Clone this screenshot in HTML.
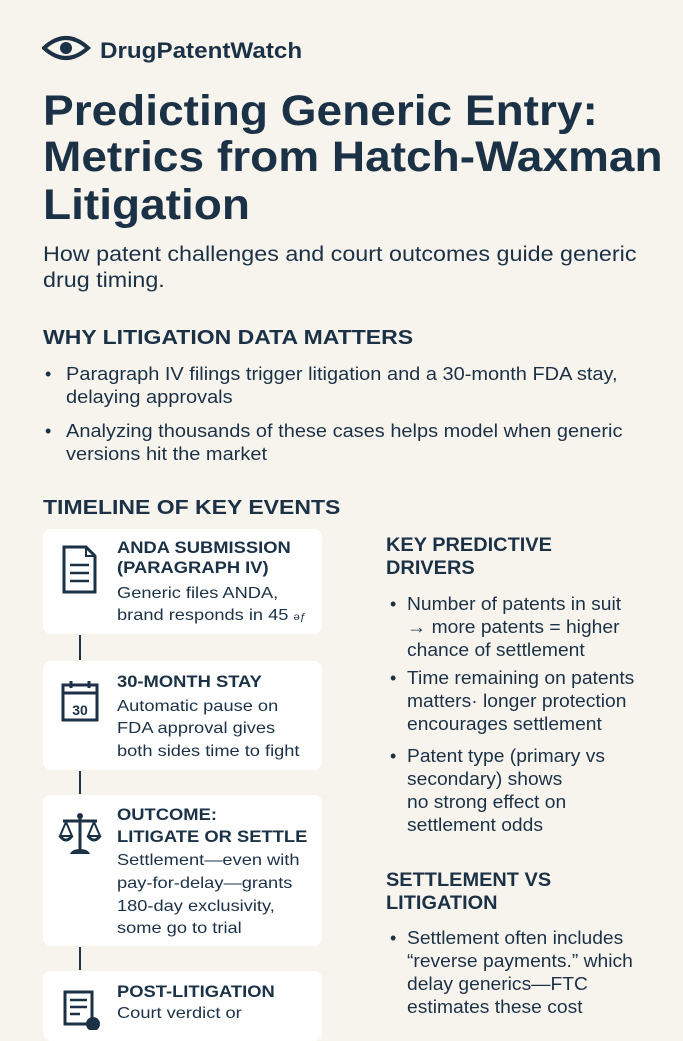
<!DOCTYPE html>
<html><head><meta charset="utf-8"><style>
body{margin:0;width:683px;height:1024px;overflow:hidden;background:#f7f4ee;position:relative;font-family:"Liberation Sans",sans-serif;color:#1b3146}
.t{position:absolute;white-space:nowrap;line-height:1;transform-origin:0 0}
.b{font-weight:bold}
.card{position:absolute;left:43px;width:279px;background:#fff;border-radius:8px}
.vl{position:absolute;left:79px;width:2px;background:#1b3146}
.ti{transform:scaleX(1.07)}
.sb{transform:scaleX(1.11)}
.h{transform:scaleX(1.15)}
.ch{transform:scaleX(1.08)}
.cb{transform:scaleX(1.14)}
.rb{transform:scaleX(1.07)}
.rh{transform:scaleX(1.05)}
</style></head><body>
<svg style="position:absolute;left:42px;top:34px" width="50" height="28" viewBox="0 0 50 28"><path d="M2 14 Q24 -6 46 14 Q24 34 2 14 Z" fill="none" stroke="#1b3146" stroke-width="4"/><circle cx="24" cy="14" r="6" fill="#1b3146"/></svg>
<div class="t b" style="left:100px;top:40px;font-size:22px;transform:scaleX(1.1)">DrugPatentWatch</div>

<div class="t b ti" style="left:43px;top:90px;font-size:43px">Predicting Generic Entry:</div>
<div class="t b ti" style="left:43px;top:136px;font-size:43px">Metrics from Hatch-Waxman</div>
<div class="t b ti" style="left:43px;top:184px;font-size:43px">Litigation</div>

<div class="t sb" style="left:43px;top:244px;font-size:21px">How patent challenges and court outcomes guide generic</div>
<div class="t sb" style="left:43px;top:270px;font-size:21px">drug timing.</div>

<div class="t b h" style="left:43px;top:328px;font-size:20px">WHY LITIGATION DATA MATTERS</div>
<div class="t" style="left:45px;top:365px;font-size:18px">•</div>
<div class="t sb" style="left:66px;top:365px;font-size:18px">Paragraph IV filings trigger litigation and a 30-month FDA stay,</div>
<div class="t sb" style="left:66px;top:388px;font-size:18px">delaying approvals</div>
<div class="t" style="left:45px;top:422px;font-size:18px">•</div>
<div class="t sb" style="left:66px;top:422px;font-size:18px">Analyzing thousands of these cases helps model when generic</div>
<div class="t sb" style="left:66px;top:445px;font-size:18px">versions hit the market</div>

<div class="t b h" style="left:43px;top:498px;font-size:20px">TIMELINE OF KEY EVENTS</div>

<div class="card" style="top:529px;height:105px"></div>
<div class="card" style="top:661px;height:109px"></div>
<div class="card" style="top:795px;height:151px"></div>
<div class="card" style="top:971px;height:70px"></div>
<div class="vl" style="top:635px;height:25px"></div>
<div class="vl" style="top:771px;height:23px"></div>
<div class="vl" style="top:947px;height:23px"></div>

<svg style="position:absolute;left:60px;top:544px" width="40" height="52"><path d="M4 3 H26 L35 12 V48 H4 Z" fill="none" stroke="#1b3146" stroke-width="3"/><path d="M26 3 V12 H35" fill="none" stroke="#1b3146" stroke-width="2"/><line x1="10" y1="21" x2="29" y2="21" stroke="#1b3146" stroke-width="2.5"/><line x1="10" y1="29" x2="29" y2="29" stroke="#1b3146" stroke-width="2.5"/><line x1="10" y1="37" x2="29" y2="37" stroke="#1b3146" stroke-width="2.5"/></svg>
<svg style="position:absolute;left:60px;top:679px" width="40" height="44"><rect x="3" y="6" width="34" height="35" fill="none" stroke="#1b3146" stroke-width="3"/><line x1="3" y1="14" x2="37" y2="14" stroke="#1b3146" stroke-width="3"/><line x1="11" y1="2" x2="11" y2="9" stroke="#1b3146" stroke-width="3"/><line x1="29" y1="2" x2="29" y2="9" stroke="#1b3146" stroke-width="3"/><text x="20" y="36" text-anchor="middle" font-family="Liberation Sans" font-weight="bold" font-size="14" fill="#1b3146">30</text></svg>
<svg style="position:absolute;left:57px;top:811px" width="46" height="46"><line x1="23" y1="6" x2="23" y2="40" stroke="#1b3146" stroke-width="3"/><circle cx="23" cy="5" r="3" fill="#1b3146"/><line x1="6" y1="10" x2="40" y2="10" stroke="#1b3146" stroke-width="3"/><path d="M9 11 L3 25 H15 Z M37 11 L31 25 H43 Z" fill="none" stroke="#1b3146" stroke-width="2"/><path d="M3 25 Q9 33 15 25 M31 25 Q37 33 43 25" fill="none" stroke="#1b3146" stroke-width="3"/><path d="M13 43 Q15 38 23 38 Q31 38 33 43 Z" fill="#1b3146"/></svg>
<svg style="position:absolute;left:62px;top:990px" width="40" height="40"><path d="M3 2 H30 V34 H3 Z" fill="none" stroke="#1b3146" stroke-width="3"/><line x1="8" y1="10" x2="25" y2="10" stroke="#1b3146" stroke-width="2.5"/><line x1="8" y1="17" x2="25" y2="17" stroke="#1b3146" stroke-width="2.5"/><line x1="8" y1="24" x2="18" y2="24" stroke="#1b3146" stroke-width="2.5"/><circle cx="31" cy="34" r="7" fill="#1b3146"/></svg>

<div class="t b ch" style="left:117px;top:539px;font-size:17px">ANDA SUBMISSION</div>
<div class="t b ch" style="left:117px;top:559px;font-size:17px">(PARAGRAPH IV)</div>
<div class="t cb" style="left:117px;top:586px;font-size:16px">Generic files ANDA,</div>
<div class="t cb" style="left:117px;top:608px;font-size:16px">brand responds in 45 <span style="font-size:10px">ǝƒ</span></div>

<div class="t b ch" style="left:117px;top:673px;font-size:17px">30-MONTH STAY</div>
<div class="t cb" style="left:117px;top:699px;font-size:16px">Automatic pause on</div>
<div class="t cb" style="left:117px;top:721px;font-size:16px">FDA approval gives</div>
<div class="t cb" style="left:117px;top:744px;font-size:16px">both sides time to fight</div>

<div class="t b ch" style="left:117px;top:806px;font-size:17px">OUTCOME:</div>
<div class="t b ch" style="left:117px;top:828px;font-size:17px">LITIGATE OR SETTLE</div>
<div class="t cb" style="left:117px;top:853px;font-size:16px">Settlement—even with</div>
<div class="t cb" style="left:117px;top:876px;font-size:16px">pay-for-delay—grants</div>
<div class="t cb" style="left:117px;top:899px;font-size:16px">180-day exclusivity,</div>
<div class="t cb" style="left:117px;top:921px;font-size:16px">some go to trial</div>

<div class="t b ch" style="left:117px;top:983px;font-size:17px">POST-LITIGATION</div>
<div class="t cb" style="left:117px;top:1006px;font-size:16px">Court verdict or</div>

<div class="t b rh" style="left:386px;top:536px;font-size:19px">KEY PREDICTIVE</div>
<div class="t b rh" style="left:386px;top:559px;font-size:19px">DRIVERS</div>
<div class="t" style="left:390px;top:595px;font-size:18px">•</div>
<div class="t rb" style="left:407px;top:595px;font-size:18px">Number of patents in suit</div>
<div class="t rb" style="left:407px;top:618px;font-size:18px">→ more patents = higher</div>
<div class="t rb" style="left:407px;top:641px;font-size:18px">chance of settlement</div>
<div class="t" style="left:390px;top:669px;font-size:18px">•</div>
<div class="t rb" style="left:407px;top:669px;font-size:18px">Time remaining on patents</div>
<div class="t rb" style="left:407px;top:692px;font-size:18px">matters· longer protection</div>
<div class="t rb" style="left:407px;top:715px;font-size:18px">encourages settlement</div>
<div class="t" style="left:390px;top:747px;font-size:18px">•</div>
<div class="t rb" style="left:407px;top:747px;font-size:18px">Patent type (primary vs</div>
<div class="t rb" style="left:407px;top:770px;font-size:18px">secondary) shows</div>
<div class="t rb" style="left:407px;top:793px;font-size:18px">no strong effect on</div>
<div class="t rb" style="left:407px;top:816px;font-size:18px">settlement odds</div>

<div class="t b rh" style="left:386px;top:871px;font-size:19px">SETTLEMENT VS</div>
<div class="t b rh" style="left:386px;top:894px;font-size:19px">LITIGATION</div>
<div class="t" style="left:390px;top:929px;font-size:18px">•</div>
<div class="t rb" style="left:407px;top:929px;font-size:18px">Settlement often includes</div>
<div class="t rb" style="left:407px;top:952px;font-size:18px">“reverse payments.” which</div>
<div class="t rb" style="left:407px;top:975px;font-size:18px">delay generics—FTC</div>
<div class="t rb" style="left:407px;top:998px;font-size:18px">estimates these cost</div>
</body></html>
